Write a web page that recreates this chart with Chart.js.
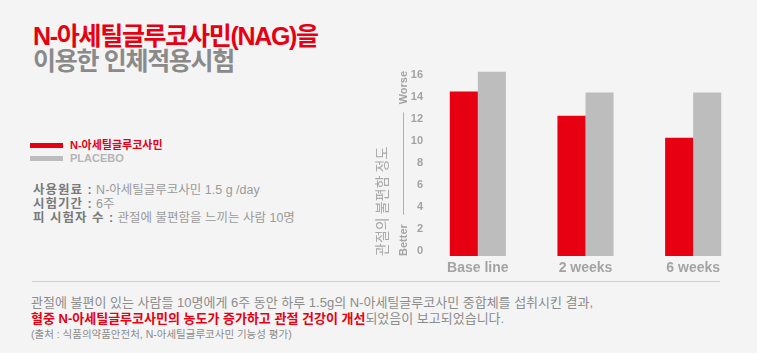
<!DOCTYPE html>
<html lang="ko">
<head>
<meta charset="utf-8">
<title>N-아세틸글루코사민(NAG)을 이용한 인체적용시험</title>
<script src="https://cdn.jsdelivr.net/npm/chart.js@4"></script>
<style>
  html, body { margin: 0; padding: 0; }
  body {
    width: 757px; height: 353px; overflow: hidden; position: relative;
    background: #f4f4f4;
    font-family: "Liberation Sans", "Noto Sans CJK KR", sans-serif;
  }
  .title { position: absolute; left: 33px; top: 24px; font-size: 25px; line-height: 25px; letter-spacing: -1.3px; font-weight: bold; }
  .title .t1 { color: #e60012; }
  .title .t2 { color: #8a8a8a; }
  .legend { position: absolute; left: 30px; top: 139px; font-size: 11px; font-weight: bold; line-height: 13px; }
  .legend div { display: flex; align-items: center; height: 13px; }
  .legend span.sw { display: inline-block; width: 33px; height: 5px; margin-right: 7px; }
  .info { position: absolute; left: 33px; top: 183px; font-size: 12.5px; line-height: 14px; color: #9a9a9a; }
  .info b { color: #7a7a7a; font-weight: bold; letter-spacing: 1px; }
  .rule { position: absolute; left: 32px; top: 281px; width: 688px; height: 1px; background: #cfcfcf; }
  .note { position: absolute; left: 31px; top: 295px; font-size: 13px; line-height: 16px; color: #8c8c8c; letter-spacing: 0px; }
  .note .red { color: #e60012; font-weight: bold; }
  .note .src { font-size: 10.5px; line-height: 15px; }
  #wrap { position: absolute; left: 370px; top: 40px; width: 387px; height: 250px; }
</style>
</head>
<body>
<div class="title">
  <div class="t1">N-아세틸글루코사민(NAG)을</div>
  <div class="t2">이용한 인체적용시험</div>
</div>

<div class="legend">
  <div style="color:#e60012"><span class="sw" style="background:#e60012"></span>N-아세틸글루코사민</div>
  <div style="color:#b4b4b4"><span class="sw" style="background:#bdbdbd"></span>PLACEBO</div>
</div>

<div class="info">
  <div><b>사용원료 :</b> N-아세틸글루코사민 1.5 g /day</div>
  <div><b>시험기간 :</b> 6주</div>
  <div><b>피 시험자 수 :</b> 관절에 불편함을 느끼는 사람 10명</div>
</div>

<div id="wrap"><canvas id="chart"></canvas></div>

<div class="rule"></div>
<div class="note">
  <div>관절에 불편이 있는 사람들 10명에게 6주 동안 하루 1.5g의 N-아세틸글루코사민 중합체를 섭취시킨 결과,</div>
  <div><span class="red">혈중 N-아세틸글루코사민의 농도가 증가하고 관절 건강이 개선</span>되었음이 보고되었습니다.</div>
  <div class="src">(출처 : 식품의약품안전처, N-아세틸글루코사민 기능성 평가)</div>
</div>

<script>
// Joint discomfort score by measurement point
const categories = ['Base line', '2 weeks', '6 weeks'];
const nagValues = [14.5, 12.3, 10.3];
const placeboValues = [16.3, 14.4, 14.4];
const yTickValues = [0, 2, 4, 6, 8, 10, 12, 14, 16];

const RED = '#e60012';
const GRAY = '#bdbdbd';
const TEXT_GRAY = '#a3a3a3';

// "Worse" / "Better" markers with a connecting rule beside the value axis
const directionMarks = {
  id: 'directionMarks',
  afterDraw(chart) {
    const { ctx, chartArea, scales: { y } } = chart;
    const x = chartArea.left - 21;
    ctx.save();
    ctx.strokeStyle = '#b0b0b0';
    ctx.lineWidth = 1;
    ctx.beginPath();
    ctx.moveTo(x + 0.5, y.getPixelForValue(12.6));
    ctx.lineTo(x + 0.5, y.getPixelForValue(3.3));
    ctx.stroke();
    ctx.fillStyle = TEXT_GRAY;
    ctx.font = 'bold 11px "Liberation Sans", sans-serif';
    ctx.textAlign = 'center';
    ctx.textBaseline = 'middle';
    [['Worse', 14.85], ['Better', 1.0]].forEach(([label, v]) => {
      ctx.save();
      ctx.translate(x + 1, y.getPixelForValue(v));
      ctx.rotate(-Math.PI / 2);
      ctx.fillText(label, 0, 0);
      ctx.restore();
    });
    ctx.restore();
  }
};

new Chart(document.getElementById('chart'), {
  type: 'bar',
  data: {
    labels: categories,
    datasets: [
      { label: 'N-아세틸글루코사민', data: nagValues, backgroundColor: RED, base: -0.45 },
      { label: 'PLACEBO', data: placeboValues, backgroundColor: GRAY, base: -0.45 }
    ]
  },
  options: {
    responsive: true,
    maintainAspectRatio: false,
    animation: false,
    devicePixelRatio: 1,
    categoryPercentage: 0.521,
    barPercentage: 1.0,
    layout: { padding: { top: 29.5, right: 10, bottom: 0, left: 0 } },
    plugins: { legend: { display: false }, tooltip: { enabled: false } },
    scales: {
      x: {
        grid: { display: false, drawTicks: false },
        border: { display: false },
        ticks: {
          color: TEXT_GRAY,
          font: { family: '"Liberation Sans", sans-serif', size: 14, weight: 'bold' },
          padding: 4
        },
        afterFit(scale) { scale.height = 34; }
      },
      y: {
        min: -0.45,
        max: 16.5,
        grid: { display: false, drawTicks: false },
        border: { display: false },
        afterBuildTicks(scale) { scale.ticks = yTickValues.map(v => ({ value: v })); },
        ticks: {
          color: TEXT_GRAY,
          font: { family: '"Liberation Sans", sans-serif', size: 11, weight: 'bold' },
          padding: 1
        },
        title: {
          display: true,
          text: '관절의 불편함 정도',
          align: 'start',
          color: '#a8a8a8',
          font: { family: '"Noto Sans CJK KR", sans-serif', size: 14 },
          padding: { top: 3, bottom: 0 }
        },
        afterFit(scale) { scale.width = 54; }
      }
    }
  },
  plugins: [directionMarks]
});
</script>
</body>
</html>
